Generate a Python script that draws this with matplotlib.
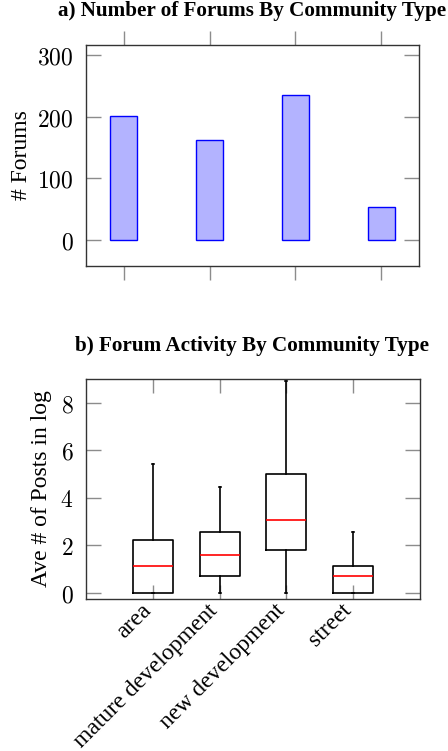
import matplotlib
matplotlib.use("Agg")
import matplotlib.pyplot as plt

# ---- data ----
categories = ["area", "mature development", "new development", "street"]
forum_counts = [201, 162, 235, 53]

whisker_low = [0.0, 0.0, 0.0, 0.0]
q1 = [0.0, 0.7, 1.8, 0.0]
medians = [1.1, 1.6, 3.05, 0.7]
q3 = [2.2, 2.57, 5.0, 1.1]
whisker_high = [5.4, 4.45, 8.9, 2.57]

bar_yticks = [0, 100, 200, 300]
box_yticks = [0, 2, 4, 6, 8]

plt.rcParams["mathtext.fontset"] = "cm"
serif = "Liberation Serif"
num_size = 17
lab_size = 17
xt_size = 17
title_size = 15.2

fig = plt.figure(figsize=(4.48, 7.51), dpi=100)

tick_gray = "#8c8c8c"
spine_col = "#333333"

# ---- top bar chart ----
ax1 = fig.add_axes([86/448, 1-266/751, 333/448, 221/751])
x = list(range(len(categories)))
ax1.bar(x, forum_counts, width=0.31, color="#b3b3ff", edgecolor="#0000ff", linewidth=1.0)
ax1.set_xlim(-0.44, 3.44)
ax1.set_ylim(-42, 316)
ax1.set_yticks(bar_yticks)
ax1.set_yticklabels([f"${v}$" for v in bar_yticks], fontsize=num_size)
ax1.set_xticks(x)
ax1.set_xticklabels([])
ax1.tick_params(axis="x", direction="out", length=10, color=tick_gray, top=True, bottom=True, width=1)
ax1.tick_params(axis="y", direction="in", length=11, color=tick_gray, left=True, right=True, width=1, pad=9)
ax1.set_ylabel("# Forums", fontfamily=serif, fontsize=lab_size, labelpad=4)
for s in ax1.spines.values():
    s.set_color(spine_col)
    s.set_linewidth(1.0)

# ---- bottom box chart ----
ax2 = fig.add_axes([86/448, 1-599/751, 334/448, 220/751])
stats = []
for i, c in enumerate(categories):
    stats.append(dict(label=c, whislo=whisker_low[i], q1=q1[i], med=medians[i],
                      q3=q3[i], whishi=whisker_high[i], fliers=[]))
pos = [1, 2, 3, 4]
ax2.bxp(stats, positions=pos, widths=0.6, showfliers=False,
        boxprops=dict(color="black", linewidth=1.2),
        whiskerprops=dict(color="black", linewidth=1.2),
        capprops=dict(color="black", linewidth=1.2),
        medianprops=dict(color="red", linewidth=1.2),
        capwidths=0.03)
ax2.set_xlim(0, 5)
ax2.set_ylim(-0.27, 9.0)
ax2.set_yticks(box_yticks)
ax2.set_yticklabels([f"${v}$" for v in box_yticks], fontsize=num_size)
ax2.set_xticks(pos)
ax2.set_xticklabels([])
for p, c in zip(pos, categories):
    ax2.annotate(c, xy=(p, 0), xycoords=ax2.get_xaxis_transform(),
                 xytext=(-3.6, -6), textcoords="offset points",
                 rotation=45, ha="right", va="center", rotation_mode="anchor",
                 fontfamily=serif, fontsize=xt_size, annotation_clip=False)
ax2.tick_params(axis="x", direction="in", length=10, color=tick_gray, top=True, bottom=True, width=1)
ax2.tick_params(axis="y", direction="in", length=11, color=tick_gray, left=True, right=True, width=1, pad=9)
ax2.set_ylabel("Ave # of Posts in log", fontfamily=serif, fontsize=lab_size, labelpad=6)
for s in ax2.spines.values():
    s.set_color(spine_col)
    s.set_linewidth(1.0)

# titles at reference positions
fig.text(252/448, 1-11/751, "a) Number of Forums By Community Type", ha="center", va="center",
         fontfamily=serif, fontsize=title_size, fontweight="bold")
fig.text(252/448, 1-346/751, "b) Forum Activity By Community Type", ha="center", va="center",
         fontfamily=serif, fontsize=title_size, fontweight="bold")

fig.savefig("out.png", dpi=100)
